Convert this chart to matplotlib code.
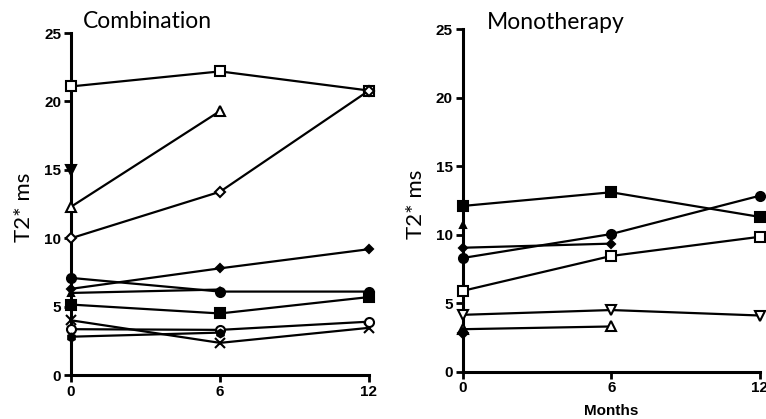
import matplotlib
matplotlib.use("Agg")
import matplotlib.pyplot as plt

months = [0, 6, 12]

# Combination group, T2* (ms) at 0 / 6 / 12 months
comb_open_square = [21.1, 22.2, 20.8]
comb_open_triangle = [12.3, 19.3]
comb_down_triangle = [15.0]
comb_open_diamond = [10.0, 13.4, 20.8]
comb_small_diamond = [6.3, 7.8, 9.2]
comb_circle = [7.1, 6.1, 6.1]
comb_small_triangle = [6.0, 6.25]
comb_square = [5.15, 4.5, 5.7]
comb_cross = [4.0, 2.35, 3.45]
comb_open_circle = [3.35, 3.3, 3.9]
comb_hexagon = [2.8, 3.1]

# Monotherapy group
mono_square = [12.1, 13.1, 11.3]
mono_circle = [8.3, 10.05, 12.85]
mono_diamond = [9.05, 9.35]
mono_open_square = [5.9, 8.45, 9.85]
mono_open_down = [4.15, 4.5, 4.1]
mono_open_triangle = [3.1, 3.3]
mono_triangle = [10.7]
mono_small_diamond = [2.8]

yticks = [0, 5, 10, 15, 20, 25]

fig = plt.figure(figsize=(7.66, 4.19), dpi=100)
ax1 = fig.add_axes([0.0927, 0.105, 0.389, 0.816])
ax2 = fig.add_axes([0.604, 0.113, 0.388, 0.817])


def draw(ax, y, marker, filled=True, ms=6.5):
    x = months[:len(y)]
    face = "black" if filled else "white"
    ax.plot(x, y, color="black", lw=1.6, marker=marker, ms=ms,
            mfc=face, mec="black", mew=1.5, clip_on=False, zorder=3)


draw(ax1, comb_open_square, "s", False)
draw(ax1, comb_open_triangle, "^", False)
draw(ax1, comb_down_triangle, "v")
draw(ax1, comb_open_diamond, "D", False, ms=5.5)
draw(ax1, comb_small_diamond, "D", ms=4.5)
draw(ax1, comb_circle, "o")
draw(ax1, comb_small_triangle, "^", ms=5)
draw(ax1, comb_square, "s")
draw(ax1, comb_cross, "x", ms=7.5)
draw(ax1, comb_open_circle, "o", False)
draw(ax1, comb_hexagon, "h", ms=5.5)

draw(ax2, mono_square, "s")
draw(ax2, mono_circle, "o")
draw(ax2, mono_diamond, "D", ms=4.5)
draw(ax2, mono_open_square, "s", False)
draw(ax2, mono_open_down, "v", False)
draw(ax2, mono_open_triangle, "^", False)
draw(ax2, mono_triangle, "^", ms=5)
draw(ax2, mono_small_diamond, "D", ms=5.5)

for ax in (ax1, ax2):
    ax.set_xlim(0, 12)
    ax.set_ylim(0, 25)
    ax.set_xticks(months)
    ax.set_yticks(yticks)
    for side in ("top", "right"):
        ax.spines[side].set_visible(False)
    for side in ("left", "bottom"):
        ax.spines[side].set_linewidth(2.2)
    ax.tick_params(direction="out", length=5, width=2, labelsize=11, pad=2)
    for lab in ax.get_xticklabels() + ax.get_yticklabels():
        lab.set_fontweight("bold")
        lab.set_fontfamily("Liberation Sans")
    ax.set_ylabel("T2* ms", fontsize=16, family="Lato")
    ax.yaxis.set_label_coords(-0.125, 0.49)

ax1.text(0.04, 1.015, "Combination", transform=ax1.transAxes,
         fontsize=16.5, family="Lato", va="baseline")
ax2.text(0.082, 1.0, "Monotherapy", transform=ax2.transAxes,
         fontsize=16.5, family="Lato", va="baseline")
ax2.set_xlabel("Months", fontsize=11, fontweight="bold",
               family="Liberation Sans", labelpad=6)

fig.savefig("out.png", dpi=100)
